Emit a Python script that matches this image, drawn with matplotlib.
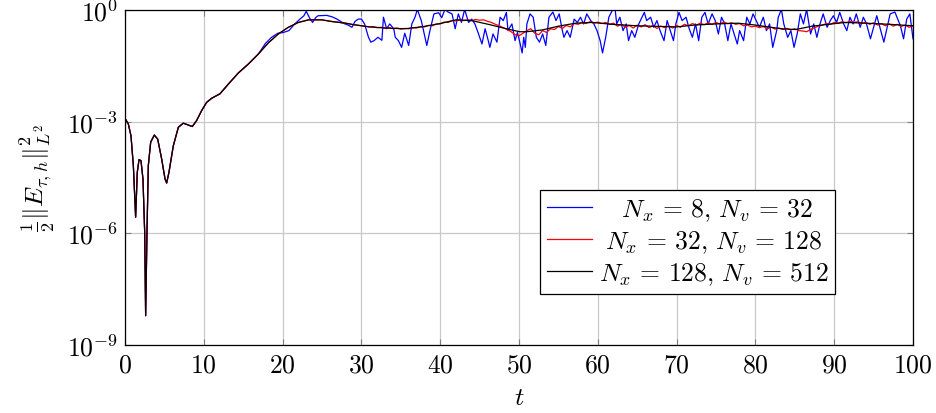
import numpy as np
import matplotlib
matplotlib.use("Agg")
import matplotlib.pyplot as plt

plt.rcParams["mathtext.fontset"] = "cm"
plt.rcParams["font.family"] = "serif"
plt.rcParams["font.serif"] = ["DejaVu Serif"]

# --- data (log10 of the energy) ---
# common start, all three resolutions agree here
t_early = [0.0, 0.42, 0.76, 1.06, 1.35, 1.56, 1.78, 2.03, 2.28, 2.5, 2.62, 2.79, 2.96,
           3.26, 3.72, 4.15, 4.65, 5.08, 5.29, 5.58, 6.13, 6.77, 7.4, 8.03, 8.54, 9.09,
           9.73, 10.36, 11.0, 12.05, 13.11, 14.38, 15.65, 16.92]
log_early = [-2.91, -3.06, -3.38, -4.18, -5.57, -4.36, -4.02, -4.05, -4.54, -5.98, -8.22,
             -5.98, -4.18, -3.55, -3.36, -3.47, -4.0, -4.54, -4.65, -4.36, -3.65, -3.15,
             -3.04, -3.09, -3.13, -2.97, -2.7, -2.48, -2.37, -2.25, -1.99, -1.69, -1.45,
             -1.18]

# N_x = 128, N_v = 512
t_black = [18.19, 19.46, 20.73, 22.0, 23.3, 24.96, 26.4, 28.0, 29.0, 31.0, 33.0, 35.5,
           37.6, 40.0, 42.0, 44.0, 46.3, 48.4, 50.1, 51.0, 53.0, 55.0, 57.2, 59.3, 61.8,
           65.0, 70.0, 72.3, 75.0, 77.8, 80.0, 83.3, 85.1, 87.2, 89.3, 91.4, 94.0, 97.0,
           100.0]
log_black = [-0.88, -0.64, -0.46, -0.33, -0.26, -0.26, -0.31, -0.35, -0.39, -0.45, -0.48,
             -0.5, -0.45, -0.36, -0.26, -0.28, -0.39, -0.5, -0.58, -0.58, -0.53, -0.43,
             -0.35, -0.33, -0.38, -0.42, -0.45, -0.4, -0.37, -0.35, -0.4, -0.5, -0.52,
             -0.43, -0.38, -0.33, -0.35, -0.38, -0.42]

# N_x = 32, N_v = 128
t_red = [18.19, 19.46, 20.73, 22.0, 23.3, 24.96, 26.4] + list(np.arange(27.0, 100.01, 0.5))
log_red = [-0.88, -0.64, -0.46, -0.33, -0.26, -0.26, -0.31,
           -0.32, -0.34, -0.35, -0.37, -0.39, -0.40, -0.42, -0.43, -0.45, -0.44,
           -0.47, -0.46, -0.49, -0.47, -0.50, -0.48, -0.51, -0.49, -0.50, -0.47,
           -0.48, -0.44, -0.45, -0.41, -0.42, -0.37, -0.37, -0.32, -0.33, -0.28,
           -0.29, -0.26, -0.28, -0.26, -0.28, -0.25, -0.27, -0.26, -0.30, -0.33,
           -0.38, -0.42, -0.47, -0.52, -0.58, -0.66, -0.69, -0.62, -0.55, -0.50,
           -0.62, -0.66, -0.55, -0.60, -0.50, -0.52, -0.44, -0.49, -0.41, -0.45,
           -0.36, -0.38, -0.33, -0.36, -0.31, -0.35, -0.32, -0.36, -0.33, -0.38,
           -0.35, -0.43, -0.38, -0.46, -0.41, -0.48, -0.40, -0.45, -0.39, -0.47,
           -0.42, -0.49, -0.43, -0.47, -0.42, -0.48, -0.41, -0.46, -0.38, -0.42,
           -0.36, -0.40, -0.35, -0.39, -0.34, -0.38, -0.33, -0.37, -0.32, -0.36,
           -0.34, -0.38, -0.36, -0.42, -0.40, -0.45, -0.43, -0.47, -0.44, -0.50,
           -0.46, -0.51, -0.48, -0.52, -0.49, -0.53, -0.50, -0.55, -0.56, -0.58,
           -0.52, -0.47, -0.43, -0.40, -0.36, -0.38, -0.33, -0.35, -0.31, -0.34,
           -0.30, -0.33, -0.31, -0.36, -0.33, -0.38, -0.34, -0.40, -0.36, -0.42,
           -0.37, -0.43, -0.38, -0.44, -0.40, -0.46, -0.42]

# N_x = 8, N_v = 32
t_blue = [17.8, 18.6, 19.4, 20.1, 20.8, 21.5, 22.2, 22.7, 23.0, 23.4, 23.8, 24.2, 24.5,
          25.6, 26.3, 26.9, 27.8, 28.3, 28.8, 29.2, 29.6, 30.0, 30.4, 30.9, 31.2, 31.6,
          32.1, 32.6, 32.8, 33.2, 33.6, 34.1, 34.3, 34.7, 35.1, 35.5, 36.0, 36.4, 36.8,
          37.1, 37.6, 38.3, 38.7, 39.2, 39.8, 40.2, 40.6, 41.0, 41.5, 41.9, 42.3, 42.7,
          43.1, 43.6, 44.0, 44.4, 44.8, 45.3, 45.7, 46.1, 46.3, 46.7, 47.2, 47.6, 48.0,
          48.4, 48.6, 49.1, 49.5, 49.8, 50.1, 50.4, 50.6, 50.8, 51.0, 51.4, 51.8, 52.2,
          52.6, 53.0, 53.4, 53.8, 54.3, 54.7, 55.1, 55.5, 55.7, 56.1, 56.5, 57.0, 57.4,
          57.8, 58.2, 58.6, 59.1, 59.5, 59.9, 60.3, 60.6, 61.0, 61.4, 61.9, 62.2, 62.4,
          62.8, 63.2, 63.6, 63.9, 64.3, 64.7, 65.2, 65.6, 65.9, 66.2, 66.7, 67.1, 67.5,
          67.9, 68.4, 68.8, 69.2, 69.6, 69.9, 70.3, 70.7, 71.2, 71.6, 72.0, 72.4, 72.8,
          73.2, 73.6, 74.0, 74.5, 74.9, 75.3, 75.7, 76.1, 76.5, 76.9, 77.3, 77.7, 78.0,
          78.5, 78.9, 79.3, 79.7, 80.1, 80.5, 81.0, 81.4, 81.8, 82.2, 82.7, 82.9, 83.3,
          83.6, 84.1, 84.5, 84.9, 85.3, 85.7, 86.1, 86.5, 87.0, 87.4, 87.8, 88.2, 88.6,
          89.1, 89.5, 89.9, 90.3, 90.7, 91.2, 91.6, 92.0, 92.4, 92.8, 93.3, 93.7, 94.1,
          94.6, 95.4, 96.3, 97.1, 97.7, 98.4, 98.8, 99.2, 99.6, 100.0]
log_blue = [-0.9, -0.73, -0.62, -0.6, -0.55, -0.38, -0.24, -0.15, -0.03, -0.2, -0.33, -0.2,
            -0.15, -0.14, -0.18, -0.24, -0.36, -0.4, -0.46, -0.3, -0.24, -0.24, -0.37,
            -0.73, -0.86, -0.82, -0.73, -0.81, -0.19, -0.5, -0.37, -0.5, -0.73, -0.82,
            -1.0, -0.62, -0.95, -0.37, -0.19, 0.02, -0.28, -0.95, -0.55, -0.1, -0.07,
            -0.2, 0.02, -0.05, -0.1, -0.5, -0.1, -0.33, 0.02, -0.33, -0.24, -0.37, -0.6,
            -0.91, -0.5, -0.82, -1.0, -0.64, -0.86, -0.19, -0.28, -0.06, -0.55, -0.37,
            -0.82, -0.6, -0.86, -1.15, -0.73, -1.0, -0.37, -0.1, -0.19, -0.73, -0.86,
            -0.64, -0.95, -0.19, -0.05, -0.28, -0.1, -0.55, -0.73, -0.55, -0.73, -0.24,
            -0.33, -0.19, -0.37, -0.1, -0.28, -0.37, -0.55, -0.82, -1.15, -0.73, -0.19,
            0.02, 0.02, -0.37, -0.19, -0.55, -0.37, -0.82, -0.55, -0.73, -0.37, -0.19,
            -0.06, -0.28, -0.19, -0.46, -0.28, -0.55, -0.82, -0.28, -0.55, -0.82, -0.37,
            -0.06, -0.28, -0.19, -0.5, -0.73, -0.37, -0.82, -0.19, -0.06, -0.37, -0.1,
            -0.28, -0.64, -0.19, -0.37, -0.82, -0.37, -0.64, -0.91, -0.55, -0.82, -0.19,
            -0.37, -0.1, -0.28, -0.46, -0.19, -0.55, -0.37, -1.0, -0.55, -0.19, 0.02,
            -0.37, -0.73, -0.55, -1.0, -0.64, -0.1, -0.37, 0.02, -0.64, -0.37, -0.73,
            -0.37, -0.1, -0.46, -0.28, -0.15, -0.33, -0.06, -0.37, -0.55, -0.19, -0.37,
            -0.1, -0.46, -0.19, -0.37, -0.77, -0.15, -0.86, -0.1, -0.05, -0.42, -0.77,
            -0.24, -0.1, -0.77]

labels = [r"$\quad N_x \,=\, 8,\, N_v \,=\, 32$",
          r"$\; N_x \,=\, 32,\, N_v \,=\, 128$",
          r"$N_x \,=\, 128,\, N_v \,=\, 512$"]

xticks = [0, 10, 20, 30, 40, 50, 60, 70, 80, 90, 100]
yexp = [-9, -6, -3, 0]

FS = 18.5


def main():
    fig = plt.figure(figsize=(9.37, 4.14), dpi=100)
    ax = fig.add_axes([0.1334, 0.165, 0.8410, 0.808])

    tb = np.array(t_early + t_blue)
    tr = np.array(t_early + t_red)
    tk = np.array(t_early + t_black)
    yb = 10.0 ** np.array(log_early + log_blue)
    yr = 10.0 ** np.array(log_early + log_red)
    yk = 10.0 ** np.array(log_early + log_black)

    ax.plot(tb, yb, color="#0000ff", lw=0.9, label=labels[0])
    ax.plot(tr, yr, color="#ff0000", lw=0.9, label=labels[1])
    ax.plot(tk, yk, color="black", lw=0.9, label=labels[2])

    ax.set_yscale("log")
    ax.set_xlim(0, 100)
    ax.set_ylim(1e-9, 1e0)
    ax.set_xticks(xticks)
    ax.set_xticklabels([rf"${v}$" for v in xticks], fontsize=FS)
    ax.set_yticks([10.0 ** e for e in yexp])
    ax.set_yticklabels([rf"$10^{{{e}}}$" for e in yexp], fontsize=FS)
    ax.minorticks_off()
    ax.tick_params(direction="in", length=4, width=0.8, color="#808080",
                   top=True, right=True, pad=5)
    ax.grid(True, color="#c8c8c8", lw=0.9)
    ax.set_axisbelow(True)
    for s in ax.spines.values():
        s.set_linewidth(0.9)

    ax.set_xlabel(r"$t$", fontsize=FS, labelpad=5)
    ax.set_ylabel(r"$\frac{1}{2}\Vert E_{\tau,h}\Vert_{L^2}^2$", fontsize=FS, labelpad=7)

    leg = ax.legend(loc="upper left", bbox_to_anchor=(0.527, 0.4625), borderaxespad=0,
                    fontsize=FS, fancybox=False, edgecolor="black", framealpha=1,
                    handlelength=1.75, handletextpad=0.3, labelspacing=0.2,
                    borderpad=0.25)
    leg.get_frame().set_linewidth(0.9)

    fig.savefig("out.png", dpi=100)


if __name__ == "__main__":
    main()
